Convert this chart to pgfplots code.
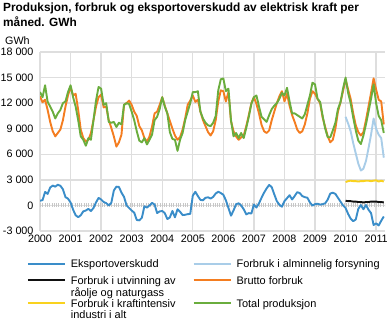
\documentclass[border=0pt]{standalone}
\usepackage{fontspec}
\setmainfont{Liberation Sans}
\usepackage{pgfplots}
\usepackage{pgfplotstable}
\pgfplotsset{compat=1.18}
\definecolor{cExp}{HTML}{3A8DC9}
\definecolor{cAlm}{HTML}{A9CDE8}
\definecolor{cUtv}{HTML}{111111}
\definecolor{cBru}{HTML}{F47D20}
\definecolor{cKra}{HTML}{F9D21E}
\definecolor{cTot}{HTML}{6AAD3D}
\newcommand\twoline[2]{\raisebox{0pt}[\height][8.8bp]{\vtop{\hbox{#1}\hbox{#2}}}}

% m = months since January 2000; P = total production, C = gross consumption, E = export surplus
\pgfplotstableread{
m P C E
0 13300 12800 550
1 12700 12100 620
2 14100 12400 1590
3 12150 11200 1350
4 11600 9800 2100
5 11000 8700 2330
6 10200 8100 2200
7 10800 8500 2430
8 11200 8900 2300
9 12000 10000 1900
10 12200 11600 970
11 13300 12900 800
12 14100 13900 350
13 12700 12900 -500
14 11600 13100 -1150
15 10000 11200 -1380
16 8100 8900 -1150
17 7700 7900 -700
18 7000 7500 -600
19 7900 7700 -400
20 7700 8500 -660
21 10000 10000 -300
22 12300 11600 350
23 13900 12700 880
24 13700 13000 700
25 11800 11500 400
26 12000 11600 270
27 9800 10000 0
28 9700 9100 300
29 9800 8100 1750
30 9200 6900 2200
31 9700 7400 2170
32 9500 8300 1500
33 11800 11800 1000
34 12000 12000 0
35 11900 12300 -300
36 11000 11800 -600
37 10000 11000 -850
38 8700 10500 -1710
39 7600 9300 -1750
40 7400 8800 -1450
41 7900 7900 -100
42 7150 7500 -250
43 7700 8100 0
44 8300 9250 300
45 10000 10800 100
46 10400 11000 -900
47 11300 11800 -700
48 12700 12700 -650
49 11600 11700 -900
50 10800 10800 -1600
51 8600 9900 -1400
52 7800 9000 -650
53 7700 8200 -1400
54 6400 7700 -450
55 7700 8000 -740
56 8500 8900 -1130
57 10000 10200 -1100
58 11000 11800 -1020
59 12000 12300 -1000
60 13300 12900 1150
61 13300 12150 1600
62 13400 12400 1100
63 11000 11000 650
64 10200 10000 600
65 9700 9300 900
66 9400 8600 950
67 9300 8200 800
68 9700 8700 1000
69 10500 10000 1400
70 13500 12200 1600
71 14800 13500 1450
72 14900 13400 1250
73 13400 12200 600
74 13700 13300 -300
75 10000 9900 -1200
76 8100 8700 -600
77 8500 8100 150
78 7900 7700 250
79 8500 8000 0
80 7900 8200 -450
81 9100 9300 -1050
82 10400 10600 -900
83 11900 12000 -950
84 12700 12700 100
85 12900 11900 -250
86 11600 10800 250
87 10400 9450 900
88 10100 8700 1500
89 9800 8500 2000
90 10600 8800 2400
91 11300 10000 2150
92 11700 11000 1300
93 12000 12000 500
94 12500 12800 80
95 13200 13400 -150
96 12900 12200 500
97 13800 13100 850
98 12200 11700 1200
99 10800 10600 700
100 10800 9800 1100
101 10600 8900 1550
102 10400 8500 1450
103 10200 8700 1100
104 10700 9500 970
105 11800 10800 900
106 12900 12500 350
107 14400 13400 -20
108 14200 13100 150
109 12500 12500 200
110 12150 12000 100
111 10500 10300 150
112 9000 9200 250
113 8000 8100 700
114 8000 7400 1400
115 8800 7700 1500
116 9700 9000 1350
117 11300 11000 900
118 12100 12100 450
119 13700 13400 0
120 15000 14800 -300
121 13200 13600 -1000
122 12000 12500 -1550
123 10300 10800 -1850
124 8800 9400 -1650
125 7600 8600 -400
126 7200 8200 50
127 8200 8600 -450
128 9500 10000 50
129 11000 11600 -500
130 12500 13200 -900
131 14200 14900 -2300
132 12000 13600 -2100
133 10500 12400 -2350
134 10000 12200 -1800
135 8500 9500 -1300
}\mainTable

% A = alminnelig forsyning, U = utvinning av raaolje og naturgass, K = kraftintensiv industri
\pgfplotstableread{
m A U K
120 10400 550 2750
121 9600 500 2850
122 8700 500 2900
123 7300 450 2850
124 6100 450 2850
125 4900 400 2800
126 4100 400 2850
127 4300 350 2850
128 5200 400 2900
129 6700 400 2900
130 8300 450 2850
131 10200 450 2900
132 9000 450 2950
133 8300 400 2800
134 7900 400 2900
135 5600 350 2800
}\subTable

\begin{document}
\begin{tikzpicture}
\useasboundingbox (0,0) rectangle (388bp,322bp);
\begin{axis}[
  at={(40bp,91bp)}, anchor=south west,
  scale only axis, width=345bp, height=179bp,
  xmin=2000, xmax=2011.29, ymin=-3000, ymax=18000,
  xtick={2000,...,2011}, ytick={-3000,0,...,18000},
  scaled y ticks=false,
  extra y ticks={0}, extra y tick labels={},
  extra y tick style={grid=major, major grid style={draw=black!22, line width=4bp, dash pattern=on 0.8bp off 1.5bp}},
  grid=major, major grid style={draw=black!13, line width=1.3bp},
  axis line style={draw=none},
  major tick length=0pt,
  tick label style={font=\fontsize{10.8}{12}\selectfont},
  /pgf/number format/assume math mode=true,
  /pgf/number format/1000 sep={\ },
  x tick label style={/pgf/number format/1000 sep={}},
  yticklabel style={xshift=-3bp},
  legend columns=2,
  legend style={
    at={(axis description cs:-0.0377,-0.161)}, anchor=north west,
    draw=none, fill=none, inner sep=0pt, outer sep=0pt,
    font=\fontsize{11}{11}\selectfont,
    cells={anchor=base west},
    nodes={inner sep=0pt, text depth=},
    column sep=5bp, row sep=6.2bp,
    /tikz/every even column/.append style={column sep=17bp},
  },
  legend image code/.code={\draw[#1] (0bp,3.8bp) -- (37bp,3.8bp);},
  every axis plot/.append style={line width=1.9bp, line join=round},
]
\addplot[cExp] table[x expr=2000+\thisrow{m}/12, y=E] {\mainTable};
\addlegendentry{Eksportoverskudd}
\addplot[cAlm] table[x expr=2000+\thisrow{m}/12, y=A] {\subTable};
\addlegendentry{Forbruk i alminnelig forsyning}
\addplot[cUtv] table[x expr=2000+\thisrow{m}/12, y=U] {\subTable};
\addlegendentry{\twoline{Forbruk i utvinning av}{råolje og naturgass}}
\addplot[cBru] table[x expr=2000+\thisrow{m}/12, y=C] {\mainTable};
\addlegendentry{Brutto forbruk}
\addplot[cKra] table[x expr=2000+\thisrow{m}/12, y=K] {\subTable};
\addlegendentry{\twoline{Forbruk i kraftintensiv}{industri i alt}}
\addplot[cTot] table[x expr=2000+\thisrow{m}/12, y=P] {\mainTable};
\addlegendentry{Total produksjon}
\end{axis}
\node[anchor=base west, inner sep=0pt, font=\bfseries\fontsize{11.9}{14}\selectfont] at (3bp,310bp) {Produksjon, forbruk og eksportoverskudd av elektrisk kraft per};
\node[anchor=base west, inner sep=0pt, font=\bfseries\fontsize{11.9}{14}\selectfont] at (3bp,295bp) {måned. GWh};
\node[anchor=base west, inner sep=0pt, font=\fontsize{10.8}{12}\selectfont] at (5bp,277bp) {GWh};
\end{tikzpicture}
\end{document}
